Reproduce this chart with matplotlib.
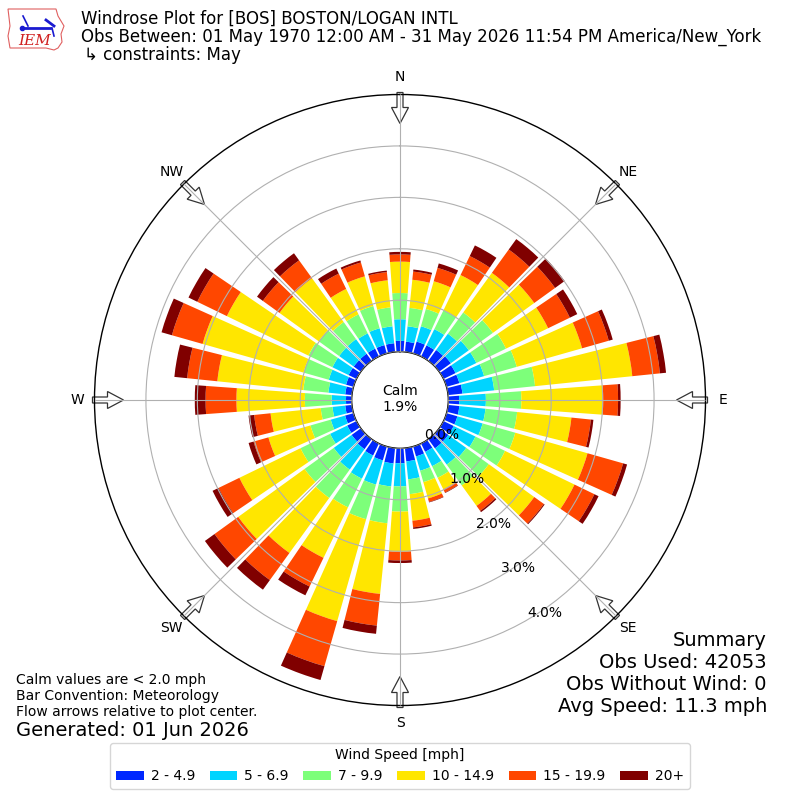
import numpy as np
import matplotlib
matplotlib.use("Agg")
import matplotlib.pyplot as plt
from matplotlib.patches import FancyArrow, Polygon

# ---------------- data ----------------
directions = np.arange(0, 360, 10)  # degrees, meteorological (from)
speed_labels = ["2 - 4.9", "5 - 6.9", "7 - 9.9", "10 - 14.9", "15 - 19.9", "20+"]
colors = ["#0028ff", "#00d4ff", "#7dff7a", "#ffe600", "#ff4700", "#800000"]

s_2_5 = [0.21, 0.20, 0.24, 0.24, 0.26, 0.28, 0.26, 0.26, 0.28, 0.21, 0.22, 0.22,
         0.22, 0.22, 0.22, 0.18, 0.20, 0.26, 0.29, 0.30, 0.28, 0.26, 0.24, 0.22,
         0.20, 0.17, 0.13, 0.11, 0.13, 0.15, 0.17, 0.17, 0.17, 0.17, 0.17, 0.17]
s_5_7 = [0.42, 0.30, 0.31, 0.35, 0.39, 0.43, 0.45, 0.50, 0.62, 0.52, 0.51, 0.51,
         0.47, 0.43, 0.39, 0.31, 0.29, 0.35, 0.45, 0.45, 0.49, 0.50, 0.49, 0.43,
         0.37, 0.29, 0.25, 0.28, 0.33, 0.35, 0.35, 0.35, 0.35, 0.33, 0.34, 0.33]
s_7_10 = [0.51, 0.36, 0.35, 0.41, 0.51, 0.58, 0.64, 0.66, 0.80, 0.69, 0.62, 0.66,
          0.64, 0.54, 0.50, 0.25, 0.23, 0.29, 0.49, 0.72, 0.70, 0.62, 0.68, 0.70,
          0.64, 0.41, 0.23, 0.52, 0.49, 0.51, 0.52, 0.49, 0.41, 0.41, 0.45, 0.37]
s_10_15 = [0.61, 0.55, 0.56, 0.76, 0.95, 0.99, 0.91, 1.32, 1.90, 1.59, 1.06, 1.46,
           1.50, 1.09, 0.49, 0.25, 0.33, 0.52, 0.78, 1.38, 2.06, 1.09, 1.32, 1.59,
           1.32, 0.85, 0.98, 1.33, 1.68, 2.04, 1.76, 0.94, 1.05, 0.55, 0.60, 0.53]
s_15_20 = [0.14, 0.16, 0.27, 0.41, 0.56, 0.50, 0.47, 0.54, 0.54, 0.29, 0.38, 0.72,
           0.43, 0.23, 0.12, 0.07, 0.07, 0.13, 0.17, 0.62, 0.91, 0.62, 0.65, 0.57,
           0.45, 0.30, 0.32, 0.60, 0.59, 0.62, 0.64, 0.40, 0.43, 0.33, 0.28, 0.16]
s_20p = [0.05, 0.04, 0.09, 0.23, 0.25, 0.23, 0.16, 0.08, 0.12, 0.05, 0.05, 0.08,
         0.09, 0.02, 0.03, 0.01, 0.01, 0.03, 0.05, 0.16, 0.28, 0.19, 0.23, 0.23,
         0.13, 0.10, 0.11, 0.21, 0.25, 0.21, 0.19, 0.14, 0.17, 0.11, 0.04, 0.03]
series = [s_2_5, s_5_7, s_7_10, s_10_15, s_15_20, s_20p]

calm_pct = 1.9
rticks = [0, 1, 2, 3, 4]
rtick_labels = ["0.0%", "1.0%", "2.0%", "3.0%", "4.0%"]
compass = ["N", "NE", "E", "SE", "S", "SW", "W", "NW"]

title_lines = ["Windrose Plot for [BOS] BOSTON/LOGAN INTL",
               "Obs Between: 01 May 1970 12:00 AM - 31 May 2026 11:54 PM America/New_York",
               "\u21b3 constraints: May"]
left_notes = ["Calm values are < 2.0 mph", "Bar Convention: Meteorology",
              "Flow arrows relative to plot center."]
generated = "Generated: 01 Jun 2026"
summary = ["Summary", "Obs Used: 42053", "Obs Without Wind: 0", "Avg Speed: 11.3 mph"]

# ---------------- figure ----------------
W = H = 800
fig = plt.figure(figsize=(8, 8), dpi=100)
cx, cy, R = 400, 400, 305.5


def fx(px):
    return px / W


def fy(py):
    return 1 - py / H


ax = fig.add_axes([fx(cx - R), fy(cy + R), 2 * R / W, 2 * R / H], projection="polar")
ax.set_theta_zero_location("N")
ax.set_theta_direction(-1)
ax.set_rorigin(-0.94)
ax.set_ylim(0, 5)

theta = np.deg2rad(directions)
width = np.deg2rad(8.3)
bottom = np.zeros(len(directions))
for vals, col, lab in zip(series, colors, speed_labels):
    vals = np.asarray(vals)
    ax.bar(theta, vals, width=width, bottom=bottom, color=col, label=lab,
           linewidth=0, zorder=2)
    bottom = bottom + vals

ax.set_axisbelow(False)
ax.set_rticks(rticks)
ax.set_yticklabels(rtick_labels, fontsize=10)
ax.set_rlabel_position(150)
ax.set_thetagrids(range(0, 360, 45), compass, fontsize=10)
ax.tick_params(axis="x", pad=2)
ax.grid(True, color="#b0b0b0", linewidth=0.8)
ax.spines["polar"].set_linewidth(1.0)
ax.spines["inner"].set_linewidth(1.0)

# flow arrows at the compass points, pointing toward the centre
for ang in range(0, 360, 45):
    a = np.deg2rad(ang)
    r_tail = R + 2
    L = 31
    x0 = cx + r_tail * np.sin(a)
    y0 = cy - r_tail * np.cos(a)
    dx = -L * np.sin(a)
    dy = L * np.cos(a)
    arr = FancyArrow(fx(x0), fy(y0), dx / W, -dy / H, width=6 / W,
                     head_width=17 / W, head_length=16 / W,
                     length_includes_head=True, transform=fig.transFigure,
                     facecolor="white", edgecolor="#333333", linewidth=0.9,
                     zorder=2.4, clip_on=False)
    ax.add_patch(arr)

# calm text
fig.text(0.5, fy(399), "Calm\n%.1f%%" % calm_pct, ha="center", va="center",
         fontsize=10, linespacing=1.2)

# titles
fig.text(fx(81), fy(19), title_lines[0], fontsize=12, va="center", ha="left")
fig.text(fx(81), fy(37), title_lines[1], fontsize=12, va="center", ha="left")
fig.text(fx(84), fy(55), title_lines[2], fontsize=12, va="center", ha="left")

# left notes
for i, t in enumerate(left_notes):
    fig.text(fx(16), fy(680 + 16 * i), t, fontsize=10, va="center", ha="left")
fig.text(fx(16), fy(730), generated, fontsize=14, va="center", ha="left")

# summary
for i, t in enumerate(summary):
    fig.text(fx(767), fy(640 + 22 * i), t, fontsize=14, va="center", ha="right")

# legend
leg = fig.legend(loc="lower center", bbox_to_anchor=(0.5, fy(789)), ncol=6,
                 title="Wind Speed [mph]", fontsize=10, title_fontsize=10,
                 handlelength=2.0, handletextpad=0.5, columnspacing=1.05,
                 borderaxespad=0, frameon=True)

# IEM logo (simple drawing)
lax = fig.add_axes([fx(6), fy(52), 60 / W, 46 / H])
lax.set_xlim(0, 60)
lax.set_ylim(46, 0)
lax.axis("off")
outline = [(2, 3), (50, 3), (52, 10), (58, 20), (55, 28), (56, 36), (52, 42),
           (48, 44), (40, 42), (4, 42), (2, 30), (4, 20)]
lax.add_patch(Polygon(outline, closed=True, fill=False, edgecolor="#e06060", lw=0.8))
lax.plot([18, 44], [22, 22], color="#1a1ad0", lw=2)
lax.plot([17, 22], [10, 20], color="#1a1ad0", lw=1.2)
lax.plot([40, 48], [14, 20], color="#1a1ad0", lw=2)
lax.plot([46, 48], [22, 30], color="#1a1ad0", lw=1.2)
lax.plot([16], [22], "o", color="#1a1ad0", ms=3)
lax.text(12, 35, "IEM", color="#d02020", fontsize=11, family="serif",
         style="italic", va="center", ha="left")

fig.savefig("out.png", dpi=100)
